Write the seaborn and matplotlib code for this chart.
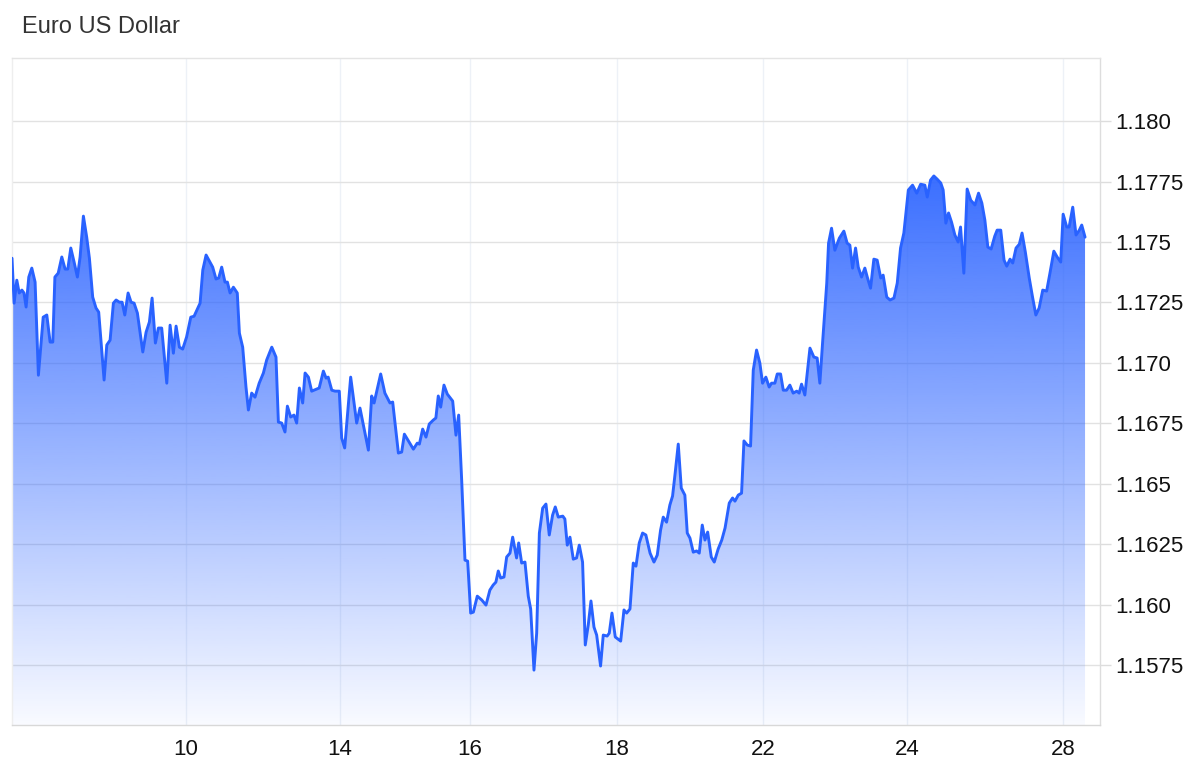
import numpy as np
import pandas as pd
import matplotlib
matplotlib.use("Agg")
import matplotlib.pyplot as plt
import seaborn as sns
from matplotlib.patches import Polygon

# hours since the first quote, and EUR/USD rate
hours = [
    0.0, 0.7, 1.6, 2.4, 3.3, 4.0, 4.7, 5.6, 6.6, 7.7, 8.8, 10.4, 11.6, 12.7, 13.6,
    14.3, 15.4, 16.6, 17.7, 18.6, 19.6, 20.7, 21.8, 22.7, 23.8, 24.9, 25.8, 26.9,
    28.0, 28.9, 30.7, 31.6, 32.7, 33.8, 34.7, 35.8, 36.7, 37.6, 38.7, 39.7, 40.7,
    41.8, 43.6, 44.7, 45.8, 46.7, 47.8, 48.8, 49.9, 51.6, 52.7, 53.8, 54.7, 55.8,
    56.9, 58.2, 59.6, 60.7, 62.7, 63.6, 64.7, 66.0, 66.9, 68.0, 68.9, 69.9, 71.0,
    71.8, 72.7, 73.8, 75.1, 75.8, 76.9, 78.0, 78.8, 79.9, 81.0, 82.4, 83.8, 84.9,
    86.6, 88.0, 88.8, 89.9, 91.0, 91.8, 92.9, 94.0, 94.9, 95.8, 96.9, 97.7, 98.8,
    99.9, 101.6, 102.4, 103.8, 104.7, 105.4, 106.6, 107.7, 109.1, 109.9, 110.9,
    112.9, 114.9, 116.0, 118.8, 119.9, 120.7, 122.9, 124.3, 126.0, 126.9, 128.8,
    129.9, 130.8, 133.8, 135.1, 135.8, 136.9, 138.0, 139.1, 140.4, 141.3, 142.1,
    142.9, 144.0, 145.1, 146.9, 148.0, 148.9, 149.9, 151.0, 151.9, 152.9, 153.8,
    155.1, 156.6, 158.0, 159.3, 160.4, 161.3, 162.1, 162.9, 164.0, 164.9, 166.0,
    166.9, 168.2, 168.9, 169.9, 171.0, 172.1, 172.9, 174.0, 174.9, 175.8, 176.9,
    178.0, 179.1, 180.2, 181.1, 182.1, 183.6, 184.3, 185.1, 186.0, 187.1, 188.2,
    189.1, 190.2, 191.1, 192.1, 193.0, 194.0, 194.9, 196.2, 197.1, 198.4, 199.1,
    200.0, 201.1, 202.9, 204.0, 204.9, 206.0, 207.1, 208.0, 209.1, 210.2, 211.3,
    212.7, 214.0, 215.1, 216.2, 217.1, 218.2, 219.3, 220.2, 221.1, 222.1, 223.1,
    224.3, 225.1, 226.0, 227.1, 228.2, 229.1, 230.1, 231.0, 231.9, 233.1, 234.1,
    235.4, 236.6, 237.7, 239.1, 240.2, 241.0, 242.1, 243.2, 244.0, 245.1, 246.2,
    247.1, 248.2, 249.3, 250.2, 251.3, 252.4, 253.2, 254.3, 255.1, 256.2, 257.1,
    258.2, 259.3, 260.4, 261.6, 262.4, 263.2, 264.3, 266.0, 267.3, 268.4, 269.3,
    270.2, 271.6, 272.2, 273.2, 274.3, 275.8, 277.3, 278.4, 279.3, 280.2, 281.2,
    282.1, 283.2, 284.3, 285.1, 286.2, 287.3, 288.4, 289.6, 290.4, 291.6, 292.7,
    294.0, 295.1, 296.2, 297.3, 298.8, 300.2, 301.6, 302.9, 304.3, 305.1, 306.2,
    307.3, 308.4, 309.6, 310.4, 311.3, 312.2, 313.2, 314.3, 315.4, 316.2, 317.3,
    318.4, 319.6, 321.0, 322.2, 323.3, 324.3, 325.3, 326.4, 327.6, 328.4, 329.6,
    330.7, 331.6, 332.7, 333.6, 334.7, 335.8, 336.7, 337.8, 339.1, 340.2, 341.3,
    342.4, 343.6, 344.9, 346.0, 347.3, 348.4, 349.6, 350.4, 351.6, 352.4, 353.6,
    354.7, 355.8, 356.6, 357.7,
]
rate = [
    1.17433, 1.17247, 1.17342, 1.17289, 1.17301, 1.17289, 1.17231, 1.17355, 1.17392,
    1.17334, 1.16949, 1.17189, 1.17198, 1.17086, 1.17086, 1.17355, 1.17371, 1.17438,
    1.17388, 1.17388, 1.17475, 1.17417, 1.17355, 1.17438, 1.17607, 1.17520, 1.17433,
    1.17272, 1.17227, 1.17210, 1.16929, 1.17074, 1.17094, 1.17247, 1.17260, 1.17251,
    1.17251, 1.17198, 1.17289, 1.17251, 1.17247, 1.17206, 1.17045, 1.17127, 1.17169,
    1.17268, 1.17082, 1.17144, 1.17144, 1.16916, 1.17156, 1.17040, 1.17152, 1.17065,
    1.17057, 1.17107, 1.17189, 1.17193, 1.17247, 1.17384, 1.17446, 1.17417, 1.17396,
    1.17347, 1.17351, 1.17396, 1.17334, 1.17334, 1.17289, 1.17313, 1.17289, 1.17123,
    1.17065, 1.16900, 1.16805, 1.16875, 1.16858, 1.16916, 1.16958, 1.17012, 1.17065,
    1.17024, 1.16755, 1.16751, 1.16714, 1.16821, 1.16776, 1.16784, 1.16751, 1.16896,
    1.16834, 1.16958, 1.16941, 1.16883, 1.16892, 1.16896, 1.16966, 1.16937, 1.16941,
    1.16887, 1.16883, 1.16883, 1.16689, 1.16648, 1.16941, 1.16751, 1.16813, 1.16639,
    1.16863, 1.16834, 1.16954, 1.16875, 1.16834, 1.16838, 1.16627, 1.16631, 1.16705,
    1.16643, 1.16668, 1.16664, 1.16726, 1.16693, 1.16747, 1.16763, 1.16772, 1.16863,
    1.16817, 1.16908, 1.16871, 1.16842, 1.16701, 1.16784, 1.16515, 1.16184, 1.16180,
    1.15965, 1.15969, 1.16035, 1.16019, 1.15998, 1.16060, 1.16081, 1.16093, 1.16139,
    1.16110, 1.16114, 1.16197, 1.16213, 1.16279, 1.16193, 1.16255, 1.16172, 1.16176,
    1.16035, 1.15982, 1.15729, 1.15882, 1.16296, 1.16399, 1.16416, 1.16288, 1.16370,
    1.16404, 1.16362, 1.16366, 1.16354, 1.16246, 1.16279, 1.16188, 1.16193, 1.16246,
    1.16176, 1.15833, 1.15916, 1.16015, 1.15907, 1.15874, 1.15746, 1.15874, 1.15870,
    1.15882, 1.15965, 1.15866, 1.15849, 1.15978, 1.15965, 1.15982, 1.16172, 1.16159,
    1.16255, 1.16296, 1.16288, 1.16213, 1.16176, 1.16205, 1.16308, 1.16362, 1.16341,
    1.16412, 1.16449, 1.16548, 1.16664, 1.16482, 1.16453, 1.16296, 1.16275, 1.16217,
    1.16222, 1.16213, 1.16329, 1.16267, 1.16300, 1.16197, 1.16176, 1.16230, 1.16267,
    1.16317, 1.16420, 1.16441, 1.16428, 1.16453, 1.16461, 1.16677, 1.16660, 1.16656,
    1.16970, 1.17053, 1.16999, 1.16916, 1.16941, 1.16900, 1.16916, 1.16916, 1.16954,
    1.16954, 1.16887, 1.16887, 1.16908, 1.16875, 1.16883, 1.16875, 1.16912, 1.16867,
    1.17061, 1.17024, 1.17020, 1.16916, 1.17082, 1.17330, 1.17495, 1.17557, 1.17466,
    1.17516, 1.17545, 1.17495, 1.17487, 1.17392, 1.17475, 1.17396, 1.17355, 1.17392,
    1.17355, 1.17309, 1.17429, 1.17425, 1.17351, 1.17363, 1.17272, 1.17260, 1.17268,
    1.17330, 1.17475, 1.17537, 1.17715, 1.17735, 1.17702, 1.17739, 1.17735, 1.17686,
    1.17756, 1.17773, 1.17760, 1.17744, 1.17715, 1.17578, 1.17620, 1.17582, 1.17529,
    1.17500, 1.17562, 1.17371, 1.17719, 1.17673, 1.17653, 1.17702, 1.17661, 1.17591,
    1.17479, 1.17471, 1.17524, 1.17549, 1.17549, 1.17425, 1.17400, 1.17429, 1.17413,
    1.17475, 1.17491, 1.17537, 1.17458, 1.17351, 1.17272, 1.17198, 1.17227, 1.17301,
    1.17297, 1.17371, 1.17462, 1.17438, 1.17417, 1.17615, 1.17562, 1.17562, 1.17644,
    1.17529, 1.17549, 1.17570, 1.17520,
]

day_ticks = [58.0, 109.3, 152.7, 201.7, 250.3, 298.3, 350.3]
day_labels = ["10", "14", "16", "18", "22", "24", "28"]
rate_ticks = [1.1575, 1.160, 1.1625, 1.165, 1.1675, 1.170, 1.1725, 1.175, 1.1775, 1.180]
rate_labels = ["1.1575", "1.160", "1.1625", "1.165", "1.1675", "1.170",
               "1.1725", "1.175", "1.1775", "1.180"]

df = pd.DataFrame({"hour": hours, "rate": rate})

sns.set_theme(style="white")
plt.rcParams["font.family"] = ["Liberation Sans", "DejaVu Sans"]

fig = plt.figure(figsize=(12, 7.81), dpi=100)
ax = fig.add_axes([0.01, 0.0717, 0.9067, 0.8540])

x_lo, x_hi = 0, 362.7
y_lo, y_hi = 1.15502, 1.18261
line_color = "#2962FF"

# gradient area under the line
top = df["rate"].max()
n = 300
alpha = np.linspace(0.03, 0.92, n)
rgba = np.zeros((n, 1, 4))
rgba[..., 0] = 0x29 / 255
rgba[..., 1] = 0x62 / 255
rgba[..., 2] = 1.0
rgba[:, 0, 3] = alpha
im = ax.imshow(rgba, extent=[x_lo, x_hi, y_lo, top], origin="lower",
               aspect="auto", zorder=1)
verts = [(df["hour"].iloc[0], y_lo)] + list(zip(df["hour"], df["rate"])) + \
        [(df["hour"].iloc[-1], y_lo)]
clip = Polygon(verts, closed=True, facecolor="none", edgecolor="none")
ax.add_patch(clip)
im.set_clip_path(clip)

sns.lineplot(data=df, x="hour", y="rate", ax=ax, color=line_color,
             linewidth=2.1, estimator=None, sort=False, zorder=3)

ax.set_xlim(x_lo, x_hi)
ax.set_ylim(y_lo, y_hi)
ax.set_xlabel("")
ax.set_ylabel("")

ax.yaxis.tick_right()
ax.set_yticks(rate_ticks, rate_labels)
ax.set_xticks(day_ticks, day_labels)
ax.tick_params(axis="y", labelsize=16, colors="#dddddd", labelcolor="#111111",
               length=8, width=1, pad=3, right=True, left=False)
ax.tick_params(axis="x", labelsize=16, labelcolor="#111111", length=0, pad=10)

ax.yaxis.grid(True, color="#e2e2e2", linewidth=1)
ax.xaxis.grid(True, color="#edf1f7", linewidth=1)
for g in ax.get_xgridlines() + ax.get_ygridlines():
    g.set_zorder(0.5)

ax.spines["top"].set_color("#e4e4e4")
ax.spines["bottom"].set_color("#d8d8d8")
ax.spines["left"].set_color("#eeeeee")
ax.spines["right"].set_color("#dddddd")
for s in ax.spines.values():
    s.set_linewidth(1)

fig.text(22 / 1200, 1 - 27 / 781, "Euro US Dollar", fontsize=17,
         color="#333333", va="center", ha="left")

fig.savefig("out.png", dpi=100)
